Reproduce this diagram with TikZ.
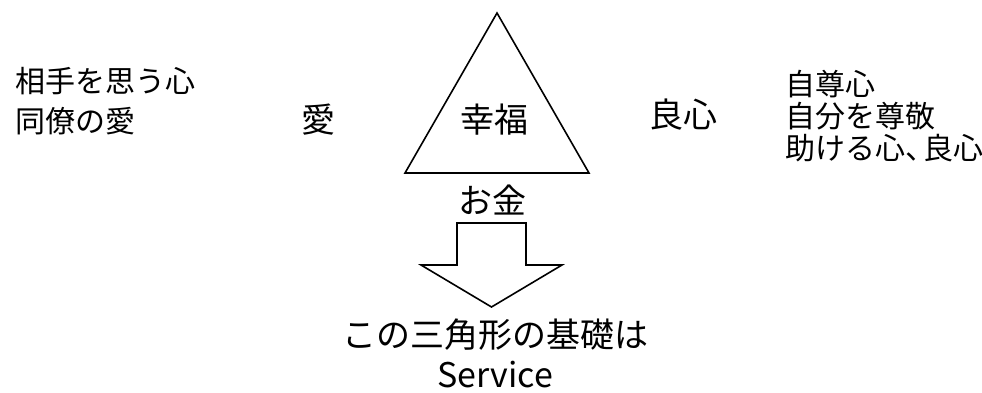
\documentclass[tikz,border=0pt]{standalone}
\usepackage{fontspec}
\setmainfont{Noto Sans CJK JP}
\begin{document}
\begin{tikzpicture}[x=1pt,y=1pt,
    big/.style={font=\fontsize{34}{40}\selectfont,inner sep=0pt},
    side/.style={anchor=west,font=\fontsize{30}{34}\selectfont,inner sep=0pt},
    shape line/.style={line width=1.6pt,line join=miter}]
  \useasboundingbox (0,0) rectangle (982,392);
  % triangle
  \draw[shape line]
    (497,379) coordinate (top)
    -- (405,219) coordinate (bl)
    -- (589,219) coordinate (br) -- cycle;
  % arrow
  \draw[shape line]
    (457,169) -- (526,169) -- (526,127) -- (562,127)
    -- (491.5,85) coordinate (tip) -- (421,127) -- (457,127) -- cycle;
  \draw
    (494,272) node[big] (happy){幸福}
    (318,272) node[big] (love){愛}
    (683,277) node[big] (conscience){良心}
    (492,192) node[big] (money){お金}
    (495,57) node[big] (base){この三角形の基礎は}
    (495,17) node[big] (service){Service};
  \draw
    (15,311) node[side] (l1){相手を思う心}
    (15,271) node[side] (l2){同僚の愛}
    (785,308) node[side] (r1){自尊心}
    (785,276) node[side] (r2){自分を尊敬}
    (785,244) node[side] (r3){助ける心、\kern-.4em良心};
\end{tikzpicture}
\end{document}
